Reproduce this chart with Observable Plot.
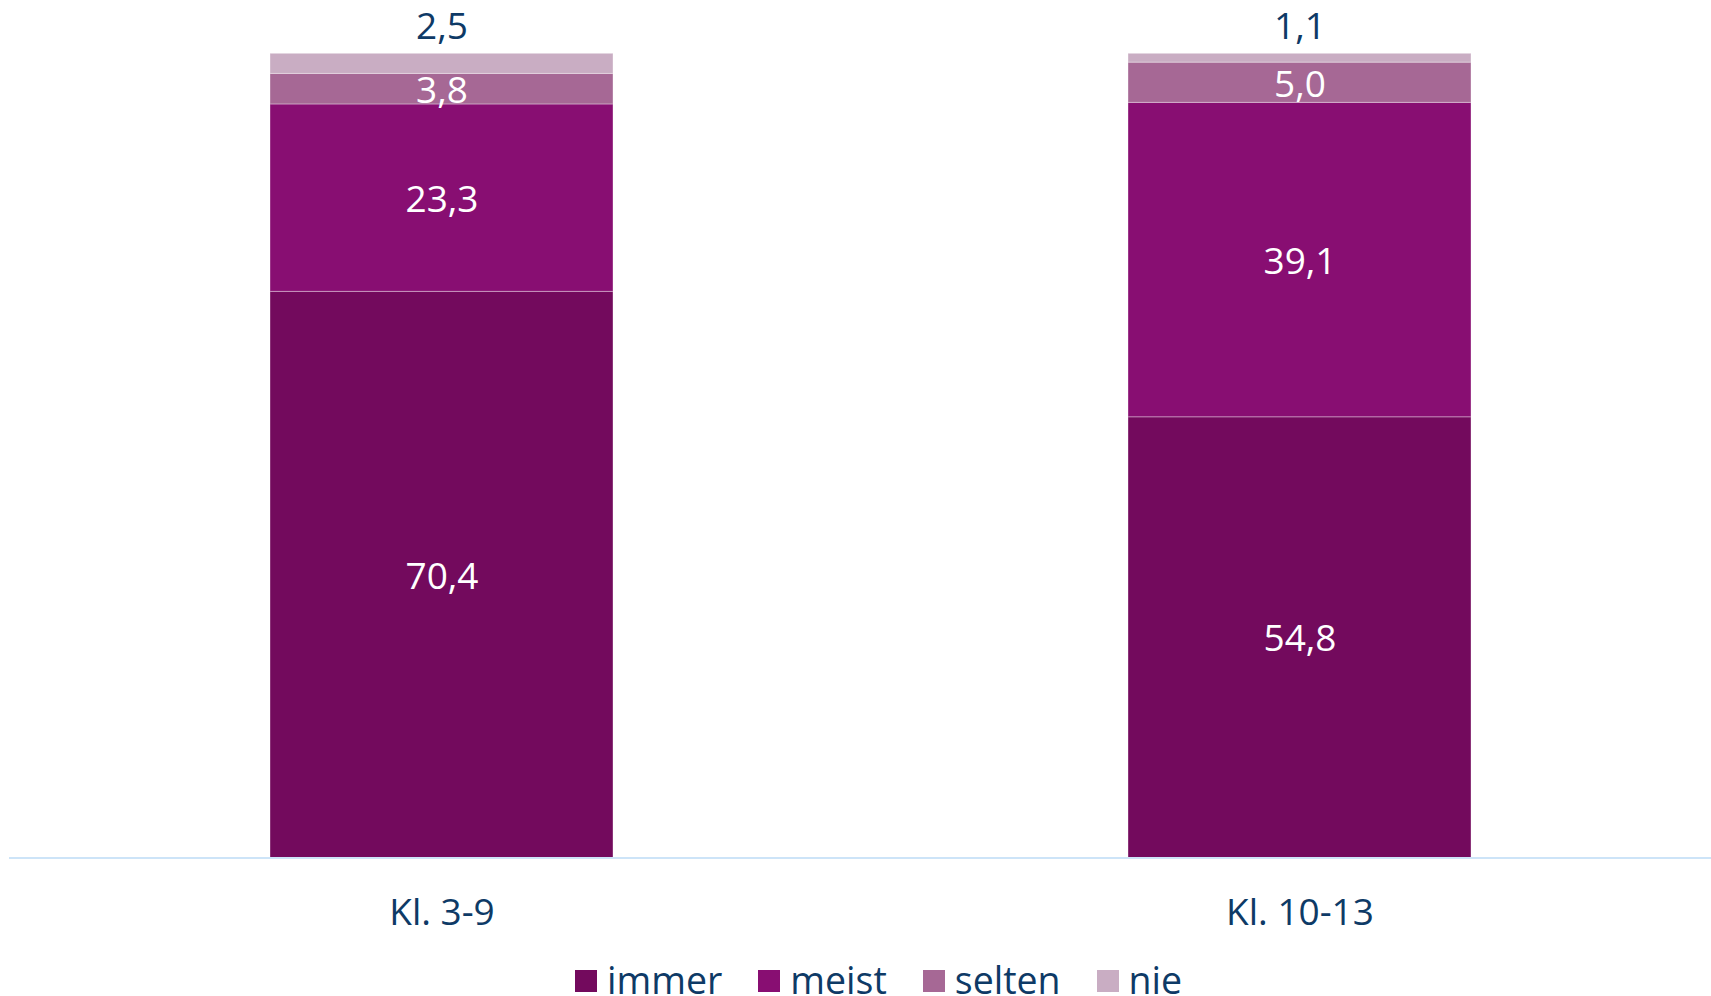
<!DOCTYPE html>
<html>
<head>
<meta charset="utf-8">
<script src="https://cdn.jsdelivr.net/npm/d3@7"></script>
<script src="https://cdn.jsdelivr.net/npm/@observablehq/plot@0.6"></script>
<style>
  html, body { margin: 0; padding: 0; background: #fff; }
  body { width: 1711px; height: 996px; overflow: hidden; font-family: "Open Sans", "Noto Sans", sans-serif; }
  #legend { display: flex; align-items: center; padding-left: 575px; padding-top: 10px; height: 51px; color: #0e3a66; font-size: 37.5px; line-height: 0.75; }
  .item { display: flex; align-items: center; margin-right: 36px; }
  .sw { width: 22px; height: 22px; margin-right: 10px; }
</style>
</head>
<body>
<div id="chart"></div>
<div id="legend"></div>
<script>
const categories = ["Kl. 3-9", "Kl. 10-13"];
const series = ["immer", "meist", "selten", "nie"];
const colors = ["#730a5d", "#880e72", "#a66895", "#c9adc3"];
const immer = [70.4, 54.8];
const meist = [23.3, 39.1];
const selten = [3.8, 5.0];
const nie = [2.5, 1.1];

const valuesBySeries = {immer, meist, selten, nie};
const rows = [];
categories.forEach((c, i) => {
  series.forEach(s => rows.push({cat: c, series: s, value: valuesBySeries[s][i]}));
});
const fmt = v => v.toFixed(1).replace(".", ",");
const inside = rows.filter(d => d.series !== "nie");
const outside = rows.filter(d => d.series === "nie");

const H = 945;
const chart = Plot.plot({
  width: 1711,
  height: H,
  marginTop: 53.3,
  marginBottom: H - 857.5,
  marginLeft: 9,
  marginRight: 0,
  style: {fontFamily: "'Open Sans', 'Noto Sans', sans-serif", fontSize: "37px", color: "#0e3a66", background: "white"},
  x: {domain: categories, range: [11.8, 1728.6], paddingInner: 0.6, paddingOuter: 0.3, align: 0.5, label: null, tickSize: 0, tickPadding: 41},
  y: {domain: [0, 100], axis: null},
  color: {domain: series, range: colors},
  marks: [
    Plot.barY(rows, Plot.stackY({x: "cat", y: "value", fill: "series", z: "series", order: series, stroke: "white", strokeOpacity: 0.35, strokeWidth: 1})),
    Plot.text(inside, Plot.stackY({x: "cat", y: "value", z: "series", order: series, text: d => fmt(d.value), fill: "white", fontSize: 37, dy: 2})),
    Plot.text(outside, {x: "cat", y: 100, text: d => fmt(d.value), fill: "#0e3a66", fontSize: 37, lineAnchor: "bottom", dy: -15}),
    Plot.ruleY([0], {stroke: "#cde4f8", strokeWidth: 2})
  ]
});
document.getElementById("chart").appendChild(chart);

const legend = document.getElementById("legend");
series.forEach((s, i) => {
  const item = document.createElement("div");
  item.className = "item";
  const sw = document.createElement("div");
  sw.className = "sw";
  sw.style.background = colors[i];
  const t = document.createElement("span");
  t.textContent = s;
  item.appendChild(sw);
  item.appendChild(t);
  legend.appendChild(item);
});
</script>
</body>
</html>
